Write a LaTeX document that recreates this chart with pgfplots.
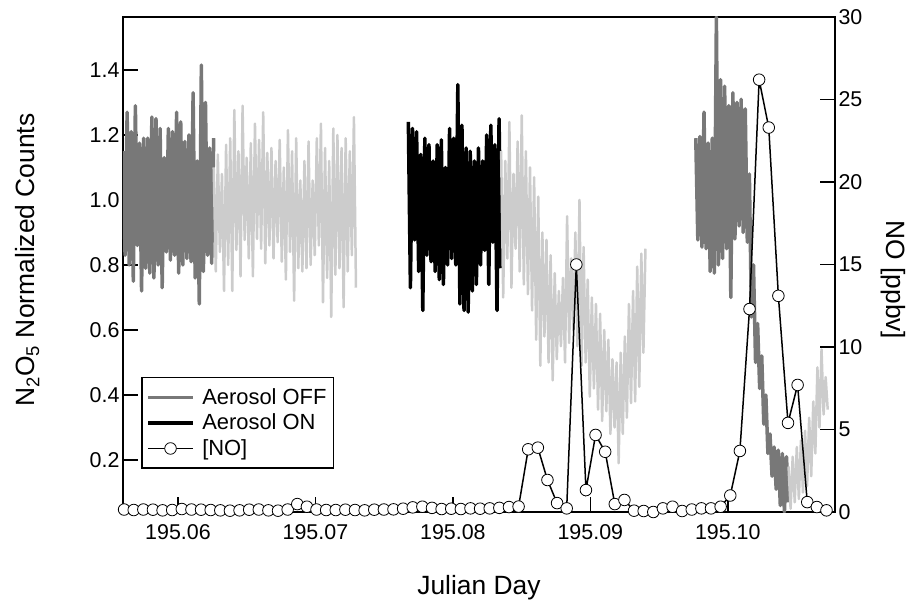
\documentclass[border=0pt]{standalone}
\usepackage{pgfplots}
\pgfplotsset{compat=1.18}
\usepackage{fontspec}
\setmainfont{Liberation Sans}
\definecolor{offgray}{RGB}{120,120,120}
\definecolor{trgray}{RGB}{204,204,204}
\pgfplotsset{
  common/.style={
    at={(0,0)}, anchor=south west,
    scale only axis, width=712bp, height=495bp,
    xmin=56.0, xmax=107.8,
    tick align=inside, major tick length=15bp,
    every tick/.style={black, line width=1.5bp},
    axis line style={line width=1.5bp},
    /pgf/number format/assume math mode=true,
    tick label style={font=\fontsize{21.5}{24}\selectfont},
  }
}
\begin{document}
\begin{tikzpicture}
\useasboundingbox (-123bp,-91bp) rectangle (786bp,512bp);
\begin{axis}[common,
  ymin=0.04, ymax=1.563,
  xtick={60,70,80,90,100},
  xticklabels={195.06,195.07,195.08,195.09,195.10},
  ytick={0.2,0.4,0.6,0.8,1.0,1.2,1.4},
  yticklabels={0.2,0.4,0.6,0.8,1.0,1.2,1.4},
  xtick pos=bottom, ytick pos=left,
  xticklabel style={yshift=-9bp},
  xlabel={Julian Day},
  ylabel={N\textsubscript{2}O\textsubscript{5} Normalized Counts},
  every axis x label/.style={at={(axis description cs:0.5,-0.1657)}, anchor=base, font=\fontsize{26.5}{30}\selectfont},
  every axis y label/.style={at={(axis description cs:-0.1236,0.509)}, anchor=base, rotate=90, font=\fontsize{26.5}{30}\selectfont},
]
% Aerosol OFF (first period)
\addplot[offgray, line width=3.5bp, line join=round, mark=none] coordinates {
(56.00,1.15)(56.15,0.83)(56.30,1.27)(56.45,0.80)(56.60,1.21)(56.75,0.75)(56.90,1.29)(57.05,0.86)
(57.20,1.175)(57.35,0.72)(57.50,1.19)(57.65,0.79)(57.80,1.19)(57.95,0.775)(58.10,1.255)(58.25,0.76)
(58.40,1.25)(58.55,0.80)(58.70,1.22)(58.85,0.73)(59.00,1.13)(59.15,0.84)(59.30,1.22)(59.45,0.815)
(59.60,1.21)(59.75,0.83)(59.90,1.27)(60.05,0.775)(60.20,1.24)(60.35,0.80)(60.50,1.18)(60.65,0.82)
(60.80,1.20)(60.95,0.81)(61.10,1.33)(61.25,0.76)(61.40,1.12)(61.55,0.68)(61.70,1.415)(61.85,0.78)
(62.00,1.30)(62.15,0.83)(62.30,1.16)(62.45,0.805)(62.60,1.19)
};
% transition
\addplot[trgray, line width=2.5bp, line join=round, mark=none] coordinates {
(62.60,1.10)(62.75,0.78)(62.90,1.14)(63.05,0.84)(63.20,1.08)(63.35,0.72)(63.50,1.17)(63.65,0.80)
(63.80,1.19)(63.95,0.72)(64.10,1.277)(64.25,0.846)(64.40,1.15)(64.55,0.765)(64.70,1.29)(64.85,0.877)
(65.00,1.13)(65.15,0.82)(65.30,1.175)(65.45,0.765)(65.60,1.235)(65.75,0.88)(65.90,1.185)(66.05,0.85)
(66.20,1.27)(66.35,0.805)(66.50,1.145)(66.65,0.86)(66.80,1.16)(66.95,0.82)(67.10,1.12)(67.25,0.87)
(67.40,1.185)(67.55,0.81)(67.70,1.10)(67.85,0.755)(68.00,1.215)(68.15,0.84)(68.30,1.15)(68.45,0.69)
(68.60,1.19)(68.75,0.79)(68.90,1.06)(69.05,0.78)(69.20,1.12)(69.35,0.79)(69.50,1.18)(69.65,0.80)
(69.80,1.06)(69.95,0.83)(70.10,1.19)(70.25,0.86)(70.40,1.235)(70.55,0.685)(70.70,1.16)(70.85,0.76)
(71.00,1.12)(71.15,0.64)(71.30,1.22)(71.45,0.77)(71.60,1.20)(71.75,0.79)(71.90,1.16)(72.05,0.67)
(72.20,1.19)(72.35,0.78)(72.50,1.15)(72.65,0.83)(72.80,1.255)(72.95,0.73)
};
% Aerosol ON
\addplot[black, line width=3.5bp, line join=round, mark=none] coordinates {
(76.76,1.24)(76.91,0.73)(77.06,1.22)(77.21,0.877)(77.36,1.21)(77.51,0.78)(77.66,1.14)(77.81,0.66)
(77.96,1.19)(78.11,0.83)(78.26,1.17)(78.41,0.81)(78.56,1.12)(78.71,0.78)(78.86,1.17)(79.01,0.755)
(79.16,1.185)(79.31,0.74)(79.46,1.10)(79.61,0.80)(79.76,1.22)(79.91,0.82)(80.06,1.19)(80.21,0.80)
(80.36,1.355)(80.51,0.68)(80.66,1.23)(80.81,0.66)(80.96,1.16)(81.11,0.655)(81.26,1.15)(81.41,0.72)
(81.56,1.12)(81.71,0.74)(81.86,1.16)(82.01,0.80)(82.16,1.12)(82.31,0.845)(82.46,1.20)(82.61,0.74)
(82.76,1.23)(82.91,0.87)(83.06,1.17)(83.21,0.66)(83.36,1.25)(83.51,0.79)
};
% transition
\addplot[trgray, line width=2.5bp, line join=round, mark=none] coordinates {
(83.51,1.15)(83.66,0.70)(83.81,1.12)(83.96,0.82)(84.11,1.24)(84.26,0.73)(84.41,1.08)(84.56,0.85)
(84.71,1.18)(84.86,0.78)(85.01,1.26)(85.16,0.74)(85.31,1.15)(85.46,0.71)(85.61,1.10)(85.76,0.66)
(85.91,1.07)(86.06,0.57)(86.21,1.01)(86.36,0.49)(86.51,0.90)(86.66,0.58)(86.81,0.877)(86.96,0.50)
(87.11,0.83)(87.26,0.445)(87.41,0.775)(87.56,0.51)(87.71,0.72)(87.86,0.55)(88.01,0.76)(88.16,0.50)
(88.31,0.95)(88.46,0.56)(88.61,0.82)(88.76,0.60)(88.91,0.90)(89.06,0.55)(89.21,1.00)(89.36,0.49)
(89.51,0.855)(89.66,0.50)(89.81,0.755)(89.96,0.395)(90.11,0.70)(90.26,0.42)(90.41,0.68)(90.56,0.355)
(90.71,0.65)(90.86,0.32)(91.01,0.60)(91.16,0.35)(91.31,0.57)(91.46,0.28)(91.61,0.51)(91.76,0.30)
(91.91,0.50)(92.06,0.19)(92.21,0.53)(92.36,0.28)(92.51,0.58)(92.66,0.33)(92.81,0.68)(92.96,0.375)
(93.11,0.72)(93.26,0.38)(93.41,0.795)(93.56,0.425)(93.71,0.835)(93.86,0.53)(94.01,0.85)
};
% Aerosol OFF (second period)
\addplot[offgray, line width=3.5bp, line join=round, mark=none] coordinates {
(97.67,1.19)(97.82,0.877)(97.97,1.195)(98.12,0.855)(98.27,1.27)(98.42,0.85)(98.57,1.175)(98.72,0.78)
(98.87,1.19)(99.02,0.775)(99.17,1.563)(99.32,0.80)(99.47,1.37)(99.62,0.82)(99.77,1.35)(99.92,0.85)
(100.07,1.29)(100.22,0.70)(100.37,1.33)(100.52,0.88)(100.67,1.30)(100.82,0.92)(100.97,1.31)(101.12,0.90)
(101.27,1.28)(101.42,0.87)(101.57,1.08)(101.72,0.64)(101.87,0.80)(102.02,0.50)(102.17,0.62)(102.32,0.42)
(102.47,0.52)(102.62,0.31)(102.77,0.40)(102.92,0.22)(103.07,0.28)(103.22,0.15)(103.37,0.24)(103.52,0.11)
(103.67,0.23)(103.82,0.06)(103.97,0.22)(104.12,0.04)(104.27,0.21)(104.42,0.07)
};
% transition
\addplot[trgray, line width=2.5bp, line join=round, mark=none] coordinates {
(104.42,0.18)(104.57,0.05)(104.72,0.21)(104.87,0.07)(105.02,0.24)(105.17,0.08)(105.32,0.26)(105.47,0.10)
(105.62,0.29)(105.77,0.12)(105.92,0.33)(106.07,0.15)(106.22,0.38)(106.37,0.22)(106.52,0.485)(106.67,0.30)
(106.82,0.54)(106.97,0.34)(107.12,0.455)(107.27,0.355)
};
\end{axis}
\begin{axis}[common,
  ymin=0, ymax=30,
  axis x line=none, axis y line*=right,
  ytick={0,5,10,15,20,25,30},
  ylabel={NO [ppbv]},
  every axis y label/.style={at={(axis description cs:1.073,0.469)}, anchor=base, rotate=-90, font=\fontsize{26.5}{30}\selectfont},
  clip=false,
  legend image code/.code={\draw[mark repeat=2,mark phase=2,#1] plot coordinates {(0bp,0bp) (22.5bp,0bp) (45bp,0bp)};},
  legend cell align=left,
  legend style={at={(rel axis cs:0.0253,0.0869)}, anchor=south west,
    draw=black, line width=1.5bp, fill=white,
    font=\fontsize{22}{24}\selectfont,
    inner xsep=4.5bp, inner ysep=7bp, row sep=0pt,
    nodes={inner sep=2.5bp, text height=17bp, text depth=3.5bp},
    /tikz/every odd column/.append style={column sep=5bp}},
]
\addlegendimage{offgray, line width=3.5bp}
\addlegendentry{Aerosol OFF}
\addlegendimage{black, line width=3.5bp}
\addlegendentry{Aerosol ON}
\addplot[black, line width=1.5bp, mark=*, mark size=5.8bp,
  mark options={fill=white, draw=black, line width=0.8bp}] coordinates {
(56.08,0.15)(56.78,0.12)(57.48,0.15)(58.18,0.14)(58.88,0.10)(59.58,0.12)(60.28,0.18)(60.98,0.15)
(61.68,0.14)(62.38,0.12)(63.08,0.10)(63.78,0.08)(64.48,0.10)(65.18,0.14)(65.88,0.15)(66.58,0.10)
(67.28,0.08)(67.98,0.15)(68.68,0.48)(69.38,0.32)(70.08,0.15)(70.78,0.12)(71.48,0.12)(72.18,0.14)
(72.88,0.12)(73.58,0.10)(74.28,0.14)(74.98,0.15)(75.68,0.16)(76.38,0.20)(77.08,0.28)(77.78,0.32)
(78.48,0.25)(79.18,0.18)(79.88,0.20)(80.58,0.18)(81.28,0.22)(81.98,0.20)(82.68,0.22)(83.38,0.25)
(84.08,0.30)(84.78,0.33)(85.48,3.8)(86.18,3.9)(86.88,1.94)(87.58,0.54)(88.28,0.22)(88.98,15.0)
(89.68,1.33)(90.38,4.67)(91.08,3.65)(91.78,0.48)(92.48,0.73)(93.18,0.08)(93.88,0.06)(94.58,0.0)
(95.28,0.22)(95.98,0.32)(96.68,0.06)(97.38,0.15)(98.08,0.22)(98.78,0.22)(99.48,0.32)(100.18,1.0)
(100.88,3.7)(101.58,12.3)(102.28,26.2)(102.98,23.3)(103.68,13.1)(104.38,5.4)(105.08,7.7)(105.78,0.6)
(106.48,0.3)(107.18,0.1)
};
\addlegendentry{[NO]}
\end{axis}
\end{tikzpicture}
\end{document}
